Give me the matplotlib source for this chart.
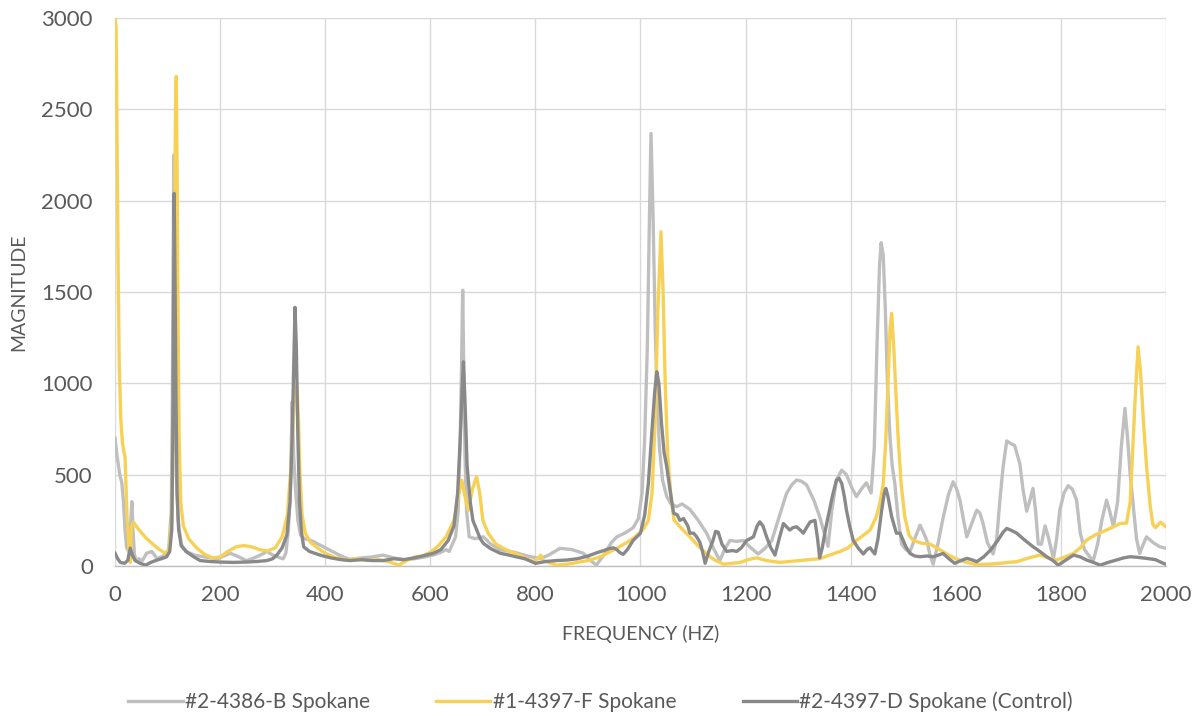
import matplotlib
matplotlib.use("Agg")
import matplotlib.pyplot as plt

plt.rcParams['font.family'] = ['Lato', 'DejaVu Sans']

series_names = ["#2-4386-B Spokane", "#1-4397-F Spokane", "#2-4397-D Spokane (Control)"]
x_ticks = [0, 200, 400, 600, 800, 1000, 1200, 1400, 1600, 1800, 2000]
y_ticks = [0, 500, 1000, 1500, 2000, 2500, 3000]

# Series B (light gray)
b_x = [0, 3, 6, 9, 13, 16, 19, 22, 26, 30, 32, 34, 37, 40, 45, 52, 60, 70, 80, 88, 95, 102, 107, 109, 110.5, 112, 113.5, 115, 117, 120, 126, 135, 151, 170, 195, 207, 219, 232, 250, 265, 280, 289, 300, 314, 320, 325, 330, 334, 337, 340, 344, 348, 353, 360, 371, 380, 390, 400, 415, 430, 447, 470, 490, 510, 530, 550, 570, 590, 605, 620, 630, 636, 642, 648, 653, 657, 660, 661.6, 663.5, 666, 669, 674, 685, 701, 715, 733, 760, 785, 809, 825, 847, 870, 891, 905, 916, 930, 945, 955, 970, 986, 996, 1003, 1008, 1013, 1017, 1020, 1024, 1028, 1032, 1036, 1042, 1050, 1058, 1069, 1079, 1094, 1110, 1126, 1140, 1151, 1160, 1170, 1183, 1196, 1210, 1224, 1238, 1250, 1265, 1278, 1288, 1297, 1306, 1316, 1330, 1341, 1350, 1357, 1364, 1373, 1383, 1392, 1402, 1411, 1420, 1430, 1439, 1445, 1450, 1455, 1458, 1462, 1466, 1470, 1475, 1479, 1484, 1490, 1497, 1505, 1513, 1522, 1532, 1539, 1545, 1551, 1557, 1566, 1576, 1586, 1595, 1602, 1608, 1615, 1621, 1630, 1640, 1646, 1652, 1660, 1671, 1678, 1684, 1690, 1697, 1705, 1712, 1718, 1722, 1728, 1735, 1741, 1747, 1752, 1757, 1763, 1770, 1776, 1786, 1792, 1798, 1806, 1814, 1822, 1830, 1837, 1845, 1855, 1862, 1870, 1878, 1887, 1893, 1900, 1908, 1915, 1922, 1927, 1932, 1938, 1944, 1950, 1957, 1963, 1975, 1988, 2000]
b_y = [700, 620, 560, 500, 453, 350, 200, 100, 80, 250, 352, 200, 60, 30, 40, 30, 70, 80, 40, 50, 60, 90, 300, 900, 1700, 2250, 1800, 1000, 500, 250, 120, 80, 60, 50, 40, 55, 70, 55, 30, 45, 65, 80, 60, 45, 40, 70, 200, 450, 899, 600, 400, 250, 170, 150, 142, 130, 115, 100, 78, 55, 36, 45, 50, 60, 45, 35, 40, 50, 60, 75, 90, 80, 120, 160, 300, 700, 1200, 1510, 1100, 600, 300, 160, 150, 160, 120, 90, 75, 55, 40, 60, 97, 90, 70, 30, 5, 60, 130, 160, 180, 210, 260, 400, 700, 1200, 1900, 2368, 1900, 1300, 900, 650, 470, 380, 340, 325, 340, 310, 250, 179, 90, 30, 90, 140, 135, 140, 100, 66, 100, 140, 280, 398, 445, 471, 465, 445, 360, 270, 180, 108, 300, 471, 525, 500, 430, 380, 420, 456, 400, 650, 1200, 1650, 1770, 1700, 1400, 1000, 700, 550, 452, 270, 120, 90, 80, 150, 224, 180, 140, 60, 10, 120, 265, 390, 461, 420, 360, 250, 160, 230, 306, 290, 233, 130, 66, 150, 360, 540, 685, 670, 660, 600, 560, 420, 300, 360, 425, 300, 120, 120, 220, 160, 40, 150, 306, 400, 440, 420, 360, 180, 90, 50, 33, 120, 250, 361, 300, 215, 350, 650, 863, 700, 500, 325, 150, 69, 120, 160, 130, 106, 97]

# Series F (yellow)
f_x = [0, 2, 4, 6, 8, 11, 14, 17, 19, 21, 23, 25, 27, 29, 31, 35, 45, 60, 80, 95, 103, 108, 111, 113, 115, 116.5, 118, 120, 122, 125, 130, 140, 155, 170, 185, 200, 215, 230, 245, 260, 275, 290, 305, 318, 328, 335, 340, 343, 346, 349, 352, 356, 362, 372, 385, 400, 420, 440, 460, 480, 500, 520, 540, 555, 570, 585, 600, 615, 630, 645, 653, 660, 666, 672, 680, 688, 694, 700, 710, 725, 745, 770, 795, 805, 810, 815, 840, 860, 880, 900, 923, 950, 975, 990, 1005, 1015, 1022, 1028, 1033, 1039, 1043, 1047, 1052, 1058, 1064, 1080, 1094, 1110, 1126, 1140, 1158, 1175, 1190, 1205, 1221, 1240, 1265, 1285, 1303, 1320, 1341, 1360, 1380, 1395, 1411, 1425, 1437, 1449, 1456, 1462, 1467, 1471, 1475, 1478, 1482, 1486, 1490, 1496, 1503, 1511, 1519, 1535, 1551, 1567, 1583, 1600, 1621, 1640, 1660, 1684, 1700, 1716, 1740, 1760, 1775, 1792, 1808, 1824, 1837, 1849, 1865, 1887, 1900, 1913, 1925, 1932, 1937, 1942, 1947, 1952, 1957, 1963, 1970, 1975, 1980, 1990, 2000]
f_y = [3000, 2950, 2300, 1600, 1100, 800, 680, 620, 600, 420, 250, 180, 60, 20, 210, 240, 200, 150, 100, 70, 90, 250, 800, 1700, 2500, 2680, 2200, 1300, 700, 350, 220, 150, 100, 65, 45, 50, 80, 105, 112, 105, 90, 82, 100, 160, 280, 550, 850, 970, 985, 800, 500, 280, 180, 130, 100, 70, 45, 35, 40, 30, 35, 25, 5, 30, 50, 55, 75, 110, 160, 250, 380, 470, 380, 305, 420, 490, 400, 250, 180, 120, 88, 60, 25, 40, 60, 30, 5, 10, 20, 30, 50, 90, 130, 160, 200, 250, 400, 800, 1400, 1830, 1500, 1000, 600, 380, 250, 200, 160, 110, 66, 35, 10, 15, 20, 35, 45, 30, 20, 25, 30, 35, 40, 60, 80, 100, 140, 170, 197, 270, 350, 450, 700, 1000, 1300, 1383, 1200, 950, 720, 450, 270, 170, 140, 125, 120, 95, 66, 40, 20, 8, 10, 15, 20, 24, 45, 60, 45, 33, 50, 69, 100, 142, 170, 197, 215, 233, 235, 350, 650, 950, 1200, 1050, 800, 550, 330, 230, 210, 240, 215]

# Series D (dark gray, control)
d_x = [0, 5, 10, 18, 24, 29, 33, 38, 48, 58, 68, 77, 88, 98, 104, 108, 110, 111.5, 112.5, 114, 116, 118, 121, 126, 136, 150, 162, 180, 200, 225, 250, 270, 289, 300, 308, 318, 327, 333, 337, 340, 342.5, 345, 348, 351, 355, 359, 370, 390, 410, 430, 447, 470, 490, 510, 530, 550, 570, 585, 606, 620, 634, 645, 652, 657, 661, 663, 666, 670, 676, 681, 688, 695, 701, 715, 733, 750, 764, 780, 800, 820, 840, 860, 880, 900, 917, 930, 940, 948, 955, 960, 967, 975, 986, 1000, 1008, 1015, 1022, 1027, 1031, 1035, 1040, 1045, 1050, 1056, 1063, 1070, 1075, 1082, 1090, 1094, 1101, 1107, 1113, 1118, 1123, 1130, 1138, 1143, 1148, 1155, 1164, 1175, 1183, 1192, 1202, 1215, 1222, 1227, 1233, 1240, 1248, 1256, 1264, 1272, 1278, 1284, 1290, 1297, 1303, 1310, 1317, 1323, 1332, 1337, 1341, 1346, 1352, 1357, 1365, 1373, 1378, 1383, 1388, 1392, 1398, 1405, 1414, 1424, 1431, 1437, 1442, 1446, 1452, 1459, 1464, 1467, 1471, 1478, 1483, 1487, 1494, 1500, 1506, 1513, 1522, 1532, 1545, 1557, 1567, 1576, 1587, 1598, 1610, 1621, 1630, 1640, 1653, 1666, 1680, 1690, 1697, 1706, 1716, 1730, 1747, 1760, 1773, 1785, 1795, 1808, 1824, 1837, 1849, 1862, 1875, 1890, 1906, 1920, 1932, 1945, 1963, 1980, 1995, 2000]
d_y = [70, 40, 20, 15, 30, 98, 60, 30, 15, 5, 20, 30, 40, 50, 80, 200, 700, 1500, 2040, 1600, 900, 400, 200, 110, 78, 50, 30, 25, 22, 20, 22, 25, 30, 40, 60, 100, 170, 350, 700, 1100, 1416, 1200, 700, 350, 180, 105, 80, 60, 45, 35, 30, 35, 30, 30, 40, 35, 45, 55, 70, 90, 140, 220, 400, 700, 1000, 1118, 900, 550, 350, 250, 200, 150, 124, 95, 70, 60, 50, 40, 15, 25, 30, 33, 40, 55, 73, 85, 95, 100, 90, 75, 64, 90, 140, 180, 280, 452, 750, 950, 1064, 1000, 780, 620, 543, 420, 290, 280, 250, 260, 220, 180, 180, 160, 130, 80, 15, 80, 140, 190, 185, 120, 80, 85, 80, 100, 140, 160, 220, 242, 220, 160, 100, 60, 150, 233, 215, 197, 210, 215, 200, 180, 215, 242, 250, 150, 45, 100, 200, 270, 380, 471, 480, 452, 380, 306, 220, 140, 100, 66, 90, 100, 80, 66, 150, 306, 400, 425, 380, 270, 220, 180, 180, 140, 100, 69, 55, 51, 55, 51, 60, 69, 40, 15, 30, 42, 35, 24, 50, 87, 140, 185, 206, 195, 180, 145, 106, 80, 51, 30, 5, 30, 60, 50, 33, 20, 5, 20, 33, 45, 51, 48, 42, 35, 15, 10]

text_color = '#595959'
grid_color = '#D9D9D9'

fig = plt.figure(figsize=(12.01, 7.22), dpi=100)
ax = fig.add_axes([0.0958, 0.216, 0.875, 0.759])

ax.plot(b_x, b_y, color='#BFBFBF', lw=2.4, solid_joinstyle='round', label=series_names[0], zorder=3)
ax.plot(f_x, f_y, color='#F7D156', lw=2.4, solid_joinstyle='round', label=series_names[1], zorder=4)
ax.plot(d_x, d_y, color='#898989', lw=2.4, solid_joinstyle='round', label=series_names[2], zorder=5)

ax.set_xlim(0, 2000)
ax.set_ylim(0, 3000)
ax.set_xticks(x_ticks)
ax.set_yticks(y_ticks)
ax.grid(True, color=grid_color, lw=1.0, zorder=0)
ax.set_axisbelow(True)
for s in ['top', 'right', 'left']:
    ax.spines[s].set_visible(False)
ax.spines['bottom'].set_color('#BFBFBF')
ax.spines['bottom'].set_linewidth(1.0)
ax.tick_params(axis='both', length=0, labelsize=16, labelcolor=text_color)
ax.tick_params(axis='x', pad=14)
ax.tick_params(axis='y', pad=16)

ax.set_xlabel('FREQUENCY (HZ)', fontsize=14, color=text_color, labelpad=14)
ax.set_ylabel('MAGNITUDE', fontsize=14, color=text_color, labelpad=10)

leg = fig.legend(loc='lower center', bbox_to_anchor=(0.5, -0.012), ncol=3, frameon=False,
                 fontsize=15, handlelength=2.6, handletextpad=0.1, columnspacing=3.2)
for t in leg.get_texts():
    t.set_color(text_color)

fig.savefig('out.png', dpi=100)
